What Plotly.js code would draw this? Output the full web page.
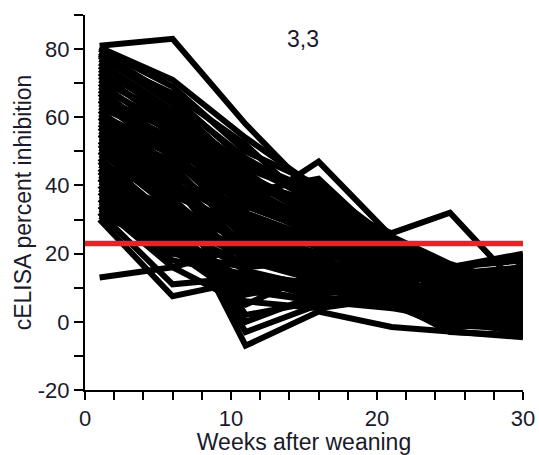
<!DOCTYPE html>
<html>
<head>
<meta charset="utf-8">
<script src="https://cdn.plot.ly/plotly-3.0.1.min.js"></script>
<style>html,body{margin:0;padding:0;background:#fff;}#chart{width:539px;height:455px;}</style>
</head>
<body>
<div id="chart"></div>
<script>
// Weeks after weaning at which each animal was sampled
const weeks = [1, 6, 11, 16, 21, 25, 30];

// Axis tick labels
const yTickVals = [-20, 0, 20, 40, 60, 80];
const yTickText = ['-20', '0', '20', '40', '60', '80'];
const xTickVals = [0, 10, 20, 30];
const xTickText = ['0', '10', '20', '30'];

// cELISA percent inhibition per animal
const s01 = [81, 83, 58, 36, 21, 12, 8];
const s02 = [80, 69, 50, 40, 24, 15, 10];
const s03 = [79, 66, 47, 38, 22, 16, 12];
const s04 = [78, 64, 44, 30, 20, 14, 6];
const s05 = [77, 67, 52, 32, 19, 10, 7];
const s06 = [76, 62, 42, 34, 18, 10, 5];
const s07 = [75, 60, 40, 28, 16, 12, 14];
const s08 = [73, 57, 33, 47, 25, 17, 10];
const s09 = [72, 58, 38, 42, 22, 8, 4];
const s10 = [71, 60, 45, 37, 23, 15, 13];
const s11 = [70, 55, 36, 30, 14, 6, 2];
const s12 = [68, 52, 34, 26, 17, 13, 16];
const s13 = [67, 50, 30, 24, 12, 8, 3];
const s14 = [66, 56, 43, 33, 20, 16, 18];
const s15 = [65, 48, 28, 22, 10, 4, 0];
const s16 = [63, 53, 41, 35, 26, 32, 9];
const s17 = [62, 45, 25, 18, 8, 2, -1];
const s18 = [61, 50, 39, 29, 19, 15, 11];
const s19 = [60, 44, 27, 20, 22, 16, 20];
const s20 = [58, 42, 22, 16, 6, -3, -4];
const s21 = [57, 40, 20, 14, 9, 5, 17];
const s22 = [56, 46, 37, 27, 18, 13, 9];
const s23 = [55, 38, 35, 25, 14, 11, 7];
const s24 = [53, 36, 18, 12, 4, 1, -2];
const s25 = [52, 35, -7, 3, -1.5, -3, -4.5];
const s26 = [51, 43, 31, 23, 15, 11, 5];
const s27 = [50, 33, -3, 5, 6, 0, -3];
const s28 = [48, 30, 0, 8, 11, 6, 2];
const s29 = [47, 28, 15, 10, 5, -2, 1];
const s30 = [46, 39, 26, 19, 11, 9, 1];
const s31 = [45, 26, 12, 9, 7, 4, 9];
const s32 = [44, 24, 10, 6, 4, 12, 15];
const s33 = [43, 32, 24, 17, 10, 5, 0];
const s34 = [42, 22, 8, 12, 16, 10, 5];
const s35 = [40, 21, 6, 4, 7, 9, 11];
const s36 = [39, 29, 19, 13, 7, 1, -3];
const s37 = [38, 20, 16, 18, 13, 16, 19];
const s38 = [36, 18, 14, 11, 8, 13, 6];
const s39 = [35, 27, 17, 21, 19, 14, 16];
const s40 = [34, 16, 5, 15, 12, 7, 3];
const s41 = [33, 25, 9, 6, 5, -1, -2];
const s42 = [32, 11, 13, 7, 5, 3, 14];
const s43 = [30, 7.5, 12, 10, 6, 2, 12];
const s44 = [13, 16, 22, 20, 15, 14, 13];
const s45 = [80.5, 71, 54, 39, 23, 14, 9];
const s46 = [78.5, 65, 48, 36, 21, 13, 8];
const s47 = [74, 61, 46, 35, 20, 12, 6];
const s48 = [69, 57, 41, 32, 18, 11, 4];
const s49 = [64, 54, 38, 28, 16, 9, 2];
const s50 = [59, 49, 34, 26, 14, 7, 1];
const s51 = [54, 47, 32, 24, 13, 6, -1];
const s52 = [49, 41, 29, 22, 12, 8, 3];
const s53 = [41, 34, 23, 17, 9, 3, -2];
const s54 = [37, 31, 21, 15, 8, 5, 7];
const s55 = [31, 23, 11, 9, 10, 11, 10];
const s56 = [65, 51, 42, 30, 17, 12, 8];
const s57 = [57, 47, 35, 28, 21, 15, 12];
const s58 = [46, 37, 28, 24, 18, 10, 6];
const s59 = [42, 30, 20, 16, 13, 7, 4];
const s60 = [60, 46, 24, 13, 9, 6, 5];
const s61 = [55, 41, 14, 7, 6, 4, 10];
const s62 = [50, 37, 2, 6, 8, 2, -1];

// Cut-off line
const cutoff = 23;
const cutoffWeeks = [0, 30];

// Panel label
const panelLabel = "3,3";
const panelLabelPos = [14.9, 83];

const animals = [s01,s02,s03,s04,s05,s06,s07,s08,s09,s10,s11,s12,s13,s14,s15,s16,s17,s18,s19,s20,
  s21,s22,s23,s24,s25,s26,s27,s28,s29,s30,s31,s32,s33,s34,s35,s36,s37,s38,s39,s40,s41,s42,s43,s44,
  s45,s46,s47,s48,s49,s50,s51,s52,s53,s54,s55,s56,s57,s58,s59,s60,s61,s62];

const traces = animals.map(v => ({
  type: 'scatter', mode: 'lines', x: weeks, y: v,
  line: {color: '#000000', width: 6},
  showlegend: false, hoverinfo: 'skip'
}));
traces.push({
  type: 'scatter', mode: 'lines', x: cutoffWeeks, y: cutoffWeeks.map(() => cutoff),
  line: {color: '#e8212b', width: 5.5},
  showlegend: false, hoverinfo: 'skip'
});

const txt = '#1a1a2a';
const fontFam = '"Liberation Sans", Arial, sans-serif';

const layout = {
  width: 539, height: 455,
  margin: {l: 85, r: 16, t: 15, b: 65, pad: 0},
  paper_bgcolor: '#ffffff', plot_bgcolor: '#ffffff',
  font: {family: fontFam, color: txt, size: 22},
  xaxis: {
    range: [0, 30], showgrid: false, zeroline: false,
    showline: true, linecolor: '#000', linewidth: 2,
    ticks: 'outside', ticklen: 8, tickwidth: 2, tickcolor: '#000',
    tickmode: 'array', tickvals: xTickVals, ticktext: xTickText,
    minor: {ticks: 'outside', ticklen: 8, tickwidth: 2, tickcolor: '#000', tickmode: 'linear', tick0: 0, dtick: 2, showgrid: false},
    tickfont: {size: 22, color: txt, family: fontFam},
    title: {text: 'Weeks after weaning', font: {size: 23, color: txt, family: fontFam}, standoff: 10}
  },
  yaxis: {
    range: [-20, 90], showgrid: false, zeroline: false,
    showline: true, linecolor: '#000', linewidth: 2,
    ticks: 'outside', ticklen: 9, tickwidth: 2, tickcolor: '#000',
    tickmode: 'array', tickvals: yTickVals, ticktext: yTickText,
    minor: {ticks: 'outside', ticklen: 9, tickwidth: 2, tickcolor: '#000', tickmode: 'linear', tick0: -20, dtick: 10, showgrid: false},
    tickfont: {size: 22, color: txt, family: fontFam},
    title: {text: 'cELISA percent inhibition', font: {size: 23, color: txt, family: fontFam}, standoff: 0}
  },
  annotations: [{
    x: panelLabelPos[0], y: panelLabelPos[1], xref: 'x', yref: 'y',
    text: panelLabel, showarrow: false,
    font: {size: 23, color: txt, family: fontFam}
  }]
};

Plotly.newPlot('chart', traces, layout, {staticPlot: true, displayModeBar: false});
</script>
</body>
</html>
